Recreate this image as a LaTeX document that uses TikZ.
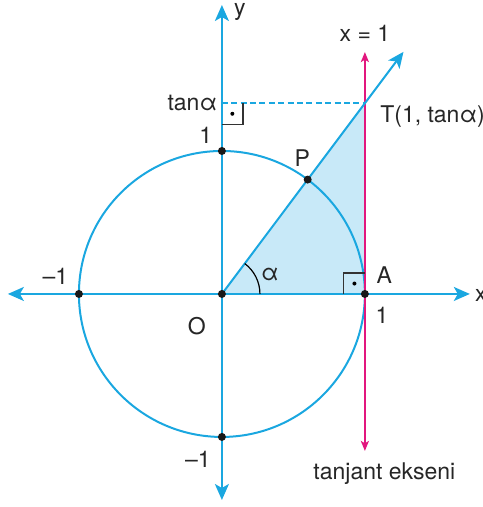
\documentclass[tikz,border=0pt]{standalone}
\usepackage{fontspec}
\setmainfont{TeX Gyre Heros}
\usepackage{tikz}
\usetikzlibrary{arrows.meta}
\definecolor{axisblue}{HTML}{1AA7E0}
\definecolor{tanmagenta}{HTML}{E2177E}
\definecolor{shadeblue}{HTML}{C8E9F8}
\definecolor{markgray}{HTML}{333333}

\begin{document}
\begin{tikzpicture}[x=71.5pt, y=71.5pt,
  bigtip/.tip={Stealth[length=8pt, width=7pt, inset=2pt]},
  smalltip/.tip={Stealth[length=5pt, width=4pt, inset=1.2pt]},
  lbl/.style={font=\fontsize{11.5}{14}\selectfont, text=black!85, inner sep=0pt},
  pt/.style={circle, fill=black!90, inner sep=0pt, minimum size=4pt},
  rmark/.style={markgray, line width=0.6pt}]
  \useasboundingbox (-1.552,-1.490) rectangle (1.825,2.056);

  % Points
  \coordinate (O) at (0,0);
  \coordinate (A) at (1,0);
  \coordinate (T) at (1,4/3);
  \coordinate (P) at (53.13:1);
  \coordinate (tanY) at (0,4/3);
  \coordinate (xLeft) at (-1.497,0);
  \coordinate (xRight) at (1.734,0);
  \coordinate (yBottom) at (0,-1.441);
  \coordinate (yTop) at (0,2.021);
  \coordinate (tanBottom) at (1,-1.098);
  \coordinate (tanTop) at (1,1.692);
  \coordinate (rayEnd) at (53.13:2.117);

  % Shaded triangle OAT
  \fill[shadeblue] (O) -- (A) -- (T) -- cycle;

  % Unit circle and axes
  \draw[axisblue, line width=1pt] (O) circle (1);
  \draw[axisblue, line width=1pt, bigtip-bigtip] (xLeft) -- (xRight);
  \draw[axisblue, line width=1pt, bigtip-bigtip] (yBottom) -- (yTop);

  % Tangent axis x = 1
  \draw[tanmagenta, line width=1pt, smalltip-smalltip] (tanBottom) -- (tanTop);

  % Terminal side and projection of T
  \draw[axisblue, line width=1pt, -bigtip] (O) -- (rayEnd);
  \draw[axisblue, line width=1pt, dash pattern=on 3pt off 1.7pt] (tanY) -- (T);

  % Angle and right angle marks
  \draw[line width=0.6pt] (0.266,0) arc (0:53.13:0.266);
  \draw[rmark] (0,4/3-0.147) -- (0.147,4/3-0.147) -- (0.147,4/3);
  \fill (0.073,4/3-0.073) circle (1pt);
  \draw[rmark] (1-0.147,0) -- (1-0.147,0.147) -- (1,0.147);
  \fill (1-0.073,0.073) circle (1pt);

  % Dots
  \foreach \name/\where in {dotO/O, dotA/A, dotP/P, dotTop/{0,1}, dotBottom/{0,-1}, dotLeft/{-1,0}} {
    \node[pt] (\name) at (\where) {};
  }

  % Labels
  \node[lbl] (xLabel) at (1.769,-0.014) [anchor=west] {x};
  \node[lbl] (yLabel) at (0.126,1.972) {y};
  \node[lbl] (tanLabel) at (-0.03,4/3) [anchor=east] {tanα};
  \node[lbl] (oneTop) at (-0.112,1.112) {1};
  \node[lbl] (pLabel) at (0.563,0.951) {P};
  \node[lbl] (tLabel) at (1.105,1.238) [anchor=west] {T(1, tanα)};
  \node[lbl] (aLabel) at (1.136,0.133) {A};
  \node[lbl] (oneRight) at (1.119,-0.147) {1};
  \node[lbl] (oLabel) at (-0.175,-0.224) {O};
  \node[lbl] (alphaLabel) at (0.336,0.133) {α};
  \node[lbl] (minusLeft) at (-1.164,0.122) {–1};
  \node[lbl] (minusBottom) at (-0.168,-1.154) {–1};
  \node[lbl] (lineLabel) at (1,1.825) {x = 1};
  \node[lbl] (axisName) at (1.136,-1.259) {tanjant ekseni};
\end{tikzpicture}
\end{document}
